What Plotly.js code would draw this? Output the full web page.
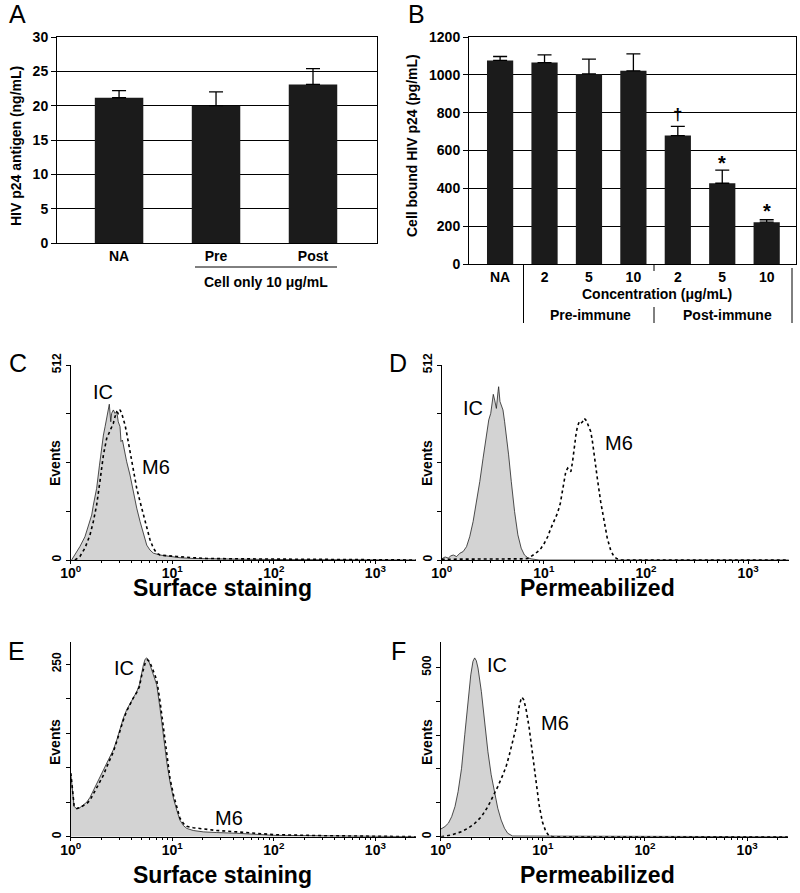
<!DOCTYPE html>
<html>
<head>
<meta charset="utf-8">
<script src="https://cdn.plot.ly/plotly-3.0.1.min.js"></script>
<style>
  html, body { margin: 0; padding: 0; background: #fff; }
  #fig { width: 800px; height: 893px; }
</style>
</head>
<body>
<div id="fig"></div>
<script>
// ---- panel A: HIV p24 antigen (ng/mL)
let aCats = ['NA', 'Pre', 'Post'];
let aVals = [21.15, 20.0, 23.1];
let aErr = [1.05, 2.0, 2.3];

// ---- panel B: cell bound HIV p24 (pg/mL)
let bTicks = ['NA', '2', '5', '10', '2', '5', '10'];
let bVals = [1076, 1065, 1005, 1021, 679, 427, 221];
let bErr = [21, 41, 78, 90, 49, 69, 13];
let bMarks = ['', '', '', '', '†', '*', '*'];
let bMarkY = [0, 0, 0, 0, 790, 535, 278];

// ---- flow histograms (x = fluorescence, y = events)
let cIcX = [1.02,1.10,1.19,1.23,1.38,1.49,1.61,1.67,1.80,1.92,2.02,2.10,2.18,2.26,2.35,2.40,2.48,2.53,2.63,2.73,2.84,2.94,3.06,3.13,3.23,3.35,3.56,3.84,4.14,4.47,4.82,5.20,5.61,6.04,6.52,7.58,9.51,11.9,16.1,21.9,50,150,400,2500];
let cIcY = [0,13,26,35,61,92,118,144,188,249,302,328,350,372,398,409,363,385,394,385,390,363,350,311,315,293,258,223,179,136,101,66,39,26,18,13,9,6,4,3,2,1,0,0];
let cM6X = [1.10,1.23,1.38,1.55,1.67,1.80,1.94,2.10,2.26,2.44,2.63,2.73,2.84,2.94,3.06,3.18,3.30,3.43,3.56,3.84,4.14,4.47,4.82,5.20,5.61,6.04,6.52,7.03,7.58,8.83,11.1,16.1,21.9,50,150,500,2500];
let cM6Y = [0,9,31,66,101,144,206,276,319,341,359,376,389,385,394,385,372,354,333,284,236,188,153,118,83,53,31,18,13,11,9,6,4,3,2,1,0];

let dIcX = [1.00,1.08,1.16,1.23,1.30,1.40,1.51,1.62,1.75,1.88,2.03,2.19,2.36,2.54,2.74,2.89,3.02,3.11,3.20,3.30,3.43,3.56,3.61,3.72,3.84,3.98,4.13,4.29,4.52,4.80,5.17,5.57,6.00,6.46,6.96,7.50,9,2500];
let dIcY = [3,8,5,11,13,9,18,22,35,61,101,153,206,267,328,368,385,416,435,420,398,442,455,416,403,394,363,328,276,206,127,66,31,13,6,3,0,0];
let dM6X = [1,3,6,6.96,7.50,8.09,8.71,9.39,10.1,10.9,11.7,12.6,13.6,14.5,15.2,15.8,16.4,17.1,17.7,18.4,19.1,19.8,20.6,21.3,22.2,23.0,23.9,24.8,25.7,26.7,27.7,28.8,29.9,31.0,33.4,36.0,38.8,41.8,45.1,48.5,52.3,56.4,2500];
let dM6Y = [2,2,3,4,9,15,22,31,44,61,83,101,123,149,179,210,232,241,236,232,258,298,328,350,363,359,363,372,368,359,350,337,311,276,214,153,101,57,26,9,3,0,0];

let eIcX = [1.00,1.01,1.08,1.15,1.23,1.33,1.44,1.55,1.67,1.80,1.94,2.10,2.26,2.44,2.63,2.84,3.06,3.30,3.56,3.84,4.14,4.47,4.74,5.01,5.20,5.40,5.61,5.82,6.04,6.43,6.77,7.03,7.58,8.17,8.83,9.51,10.3,11.1,11.9,12.9,13.9,16.1,20.2,27.4,43.2,100,300,2500];
let eIcY = [92,87,44,40,42,46,50,57,67,76,86,96,106,116,126,140,157,172,184,193,203,210,220,239,249,257,259,256,249,237,230,220,186,147,108,79,55,38,24,16,12,9,7,6,5,2,1,0];
let eM6X = [1.00,1.01,1.08,1.15,1.23,1.33,1.44,1.55,1.67,1.80,1.94,2.10,2.26,2.44,2.63,2.84,3.06,3.30,3.56,3.84,4.14,4.47,4.74,5.01,5.20,5.40,5.69,5.95,6.28,6.67,7.03,7.58,8.17,8.83,9.51,10.3,11.1,11.9,12.9,13.9,16.1,20.2,27.4,43.2,100,300,2500];
let eM6Y = [92,88,45,41,42,45,48,53,62,70,79,89,101,113,123,138,155,169,182,192,201,209,217,234,244,251,256,254,246,235,227,196,157,116,84,60,41,27,19,15,13,11,9,7,3,1.5,0];

let fIcX = [1.00,1.01,1.10,1.19,1.28,1.38,1.48,1.60,1.72,1.85,1.97,2.07,2.15,2.23,2.32,2.50,2.69,2.90,3.12,3.36,3.62,3.91,4.21,4.53,5.06,2500];
let fIcY = [26,23,30,40,59,89,133,202,301,409,478,518,528,520,498,429,340,251,183,128,84,49,25,10,2,0];
let fM6X = [1.01,1.28,1.60,1.85,2.15,2.50,2.90,3.24,3.62,4.05,4.37,4.70,5.06,5.46,5.66,5.87,6.10,6.24,6.48,6.82,7.35,7.92,8.53,9.19,9.89,10.7,11.5,12.4,2500];
let fM6Y = [0,5,15,25,39,59,89,118,148,182,207,242,281,321,350,385,405,412,405,380,321,242,163,94,44,15,3,0,0];

let decadeVals = [1, 10, 100, 1000];
let decadeText = ['<b>10<sup>0</sup></b>', '<b>10<sup>1</sup></b>', '<b>10<sup>2</sup></b>', '<b>10<sup>3</sup></b>'];

const FONT = 'Liberation Sans, Arial, Helvetica, sans-serif';
const W = 800, H = 893;
function px(x) { return x / W; }
function py(y) { return 1 - y / H; }

let minorVals = [];
[1, 10, 100, 1000].forEach(function(d) {
  for (let k = 2; k <= 9; k++) { if (d * k < 2500) minorVals.push(d * k); }
});

function bar(x, y, err, width, ax) {
  return {
    type: 'bar', x: x, y: y, width: width,
    marker: {color: '#1b1b1b', line: {width: 0}},
    error_y: {type: 'data', symmetric: false, array: err, arrayminus: err.map(function() { return 0; }),
      color: '#000', thickness: 1.3, width: 7},
    xaxis: 'x' + ax, yaxis: 'y' + ax, hoverinfo: 'none'
  };
}

function hist(x, y, dotted, ax) {
  let t = {type: 'scatter', mode: 'lines', x: x, y: y, xaxis: 'x' + ax, yaxis: 'y' + ax, hoverinfo: 'none'};
  if (dotted) {
    t.line = {color: '#000', width: 1.6, dash: 'dot'};
  } else {
    t.line = {color: '#222', width: 0.8};
    t.fill = 'tozeroy';
    t.fillcolor = '#d3d3d3';
  }
  return t;
}

let data = [
  bar([0, 1, 2], aVals, aErr, 0.5, ''),
  bar([0, 1, 2, 3, 4, 5, 6], bVals, bErr, 0.59, '2'),
  hist(cIcX, cIcY, false, '3'), hist(cM6X, cM6Y, true, '3'),
  hist(dIcX, dIcY, false, '4'), hist(dM6X, dM6Y, true, '4'),
  hist(eIcX, eIcY, false, '5'), hist(eM6X, eM6Y, true, '5'),
  hist(fIcX, fIcY, false, '6'), hist(fM6X, fM6Y, true, '6')
];

let boldTick = {family: FONT, size: 14, color: '#000', weight: 'bold'};

function barX(dom, range, labels, anchor) {
  return {domain: dom, anchor: anchor, range: range, tickvals: labels.map(function(l, i) { return i; }), ticktext: labels,
    ticks: '', showline: true, mirror: true, linecolor: '#000', linewidth: 1, showgrid: false,
    zeroline: false, tickfont: boldTick, fixedrange: true};
}
function barY(dom, range, dtick, anchor) {
  return {domain: dom, anchor: anchor, range: range, dtick: dtick, ticks: 'outside', ticklen: 5, tickcolor: '#000',
    showline: true, mirror: true, linecolor: '#000', linewidth: 1, showgrid: true, gridcolor: '#000',
    gridwidth: 1, zeroline: false, tickfont: boldTick, fixedrange: true};
}
function histX(dom, anchor) {
  return {domain: dom, anchor: anchor, type: 'log', range: [0, 3.4], tickvals: decadeVals, ticktext: decadeText,
    ticks: 'outside', ticklen: 3, tickcolor: '#000', showline: true, linecolor: '#000', linewidth: 1,
    ticklabelstandoff: -3,
    showgrid: false, zeroline: false, tickfont: {family: FONT, size: 14, color: '#000', weight: 'bold'},
    minor: {tickvals: minorVals, ticks: 'outside', ticklen: 2, tickcolor: '#000', showgrid: false},
    fixedrange: true};
}
function histY(dom, anchor, top, vals, labels) {
  return {domain: dom, anchor: anchor, range: [0, top], tickvals: vals, ticktext: labels, tickangle: -90,
    ticks: 'outside', ticklen: 4, tickcolor: '#000', showline: true, linecolor: '#000', linewidth: 1,
    showgrid: false, zeroline: false, tickfont: {family: FONT, size: 12, color: '#000', weight: 'bold'},
    fixedrange: true};
}

let cdY = [py(560), py(365)];
let efY = [py(836.7), py(642)];

let layout = {
  width: W, height: H, margin: {l: 0, r: 0, t: 0, b: 0},
  paper_bgcolor: '#fff', plot_bgcolor: 'rgba(0,0,0,0)', showlegend: false,
  font: {family: FONT, color: '#000'},
  xaxis: barX([px(57), px(377)], [-0.64, 2.66], aCats, 'y'),
  yaxis: barY([py(243), py(37)], [0, 30], 5, 'x'),
  xaxis2: barX([px(469), px(796)], [-0.7, 6.66], bTicks, 'y2'),
  yaxis2: barY([py(264), py(37)], [0, 1200], 200, 'x2'),
  xaxis3: histX([px(70.7), px(416)], 'y3'),
  yaxis3: histY(cdY, 'x3', 512, [0, 128, 256, 384, 512], ['0', '', '', '', '512']),
  xaxis4: histX([px(441.7), px(789)], 'y4'),
  yaxis4: histY(cdY, 'x4', 512, [0, 128, 256, 384, 512], ['0', '', '', '', '512']),
  xaxis5: histX([px(70.7), px(416)], 'y5'),
  yaxis5: histY(efY, 'x5', 282, [0, 50, 100, 150, 200, 250], ['0', '', '', '', '', '250']),
  xaxis6: histX([px(440.7), px(788)], 'y6'),
  yaxis6: histY(efY, 'x6', 575, [0, 100, 200, 300, 400, 500], ['0', '', '', '', '', '500']),
  annotations: [],
  shapes: []
};

function note(text, x, y, size, bold, angle) {
  layout.annotations.push({text: text, xref: 'paper', yref: 'paper', x: px(x), y: py(y),
    xanchor: 'center', yanchor: 'middle', showarrow: false, textangle: angle || 0,
    font: {family: FONT, size: size, color: '#000', weight: bold ? 'bold' : 'normal'}});
}
function rule(x0, y0, x1, y1) {
  layout.shapes.push({type: 'line', xref: 'paper', yref: 'paper', x0: px(x0), y0: py(y0),
    x1: px(x1), y1: py(y1), line: {color: '#000', width: 1}});
}

// panel letters
note('A', 17, 14, 25); note('B', 416, 14, 25);
note('C', 18, 363, 25); note('D', 398, 363, 25);
note('E', 16, 651, 25); note('F', 398, 651, 25);

// panel A texts
note('HIV p24 antigen (ng/mL)', 16, 146, 14, true, -90);
rule(195, 267, 337, 267);
note('Cell only 10 μg/mL', 266, 282, 14, true);

// panel B texts
note('Cell bound HIV p24 (pg/mL)', 412, 146, 14, true, -90);
note('Concentration (μg/mL)', 657, 294, 14, true);
note('Pre-immune', 590, 315, 14, true);
note('Post-immune', 727, 315, 14, true);
rule(523.5, 264, 523.5, 323);
rule(654, 264, 654, 271);
rule(654, 307, 654, 323);
rule(792, 268, 792, 323);
bMarks.forEach(function(m, i) {
  if (!m) return;
  layout.annotations.push({text: m, xref: 'x2', yref: 'y2', x: i, y: bMarkY[i], showarrow: false,
    xanchor: 'center', yanchor: 'middle', font: {family: FONT, size: m === '*' ? 20 : 17, color: '#000', weight: 'bold'}});
});

// histogram texts
note('Events', 55, 463, 14, true, -90); note('Events', 427, 463, 14, true, -90);
note('Events', 55, 742, 14, true, -90); note('Events', 427, 742, 14, true, -90);
note('Surface staining', 222, 588, 23, true); note('Permeabilized', 597, 588, 23, true);
note('Surface staining', 222, 875, 23, true); note('Permeabilized', 597, 875, 23, true);
note('IC', 103, 392, 20); note('M6', 156, 467, 20);
note('IC', 473, 408, 20); note('M6', 619, 443, 20);
note('IC', 124, 668, 20); note('M6', 229, 818, 20);
note('IC', 497, 665, 20); note('M6', 555, 723, 20);

Plotly.newPlot(document.getElementById('fig'), data, layout, {displayModeBar: false, staticPlot: true});
</script>
</body>
</html>
